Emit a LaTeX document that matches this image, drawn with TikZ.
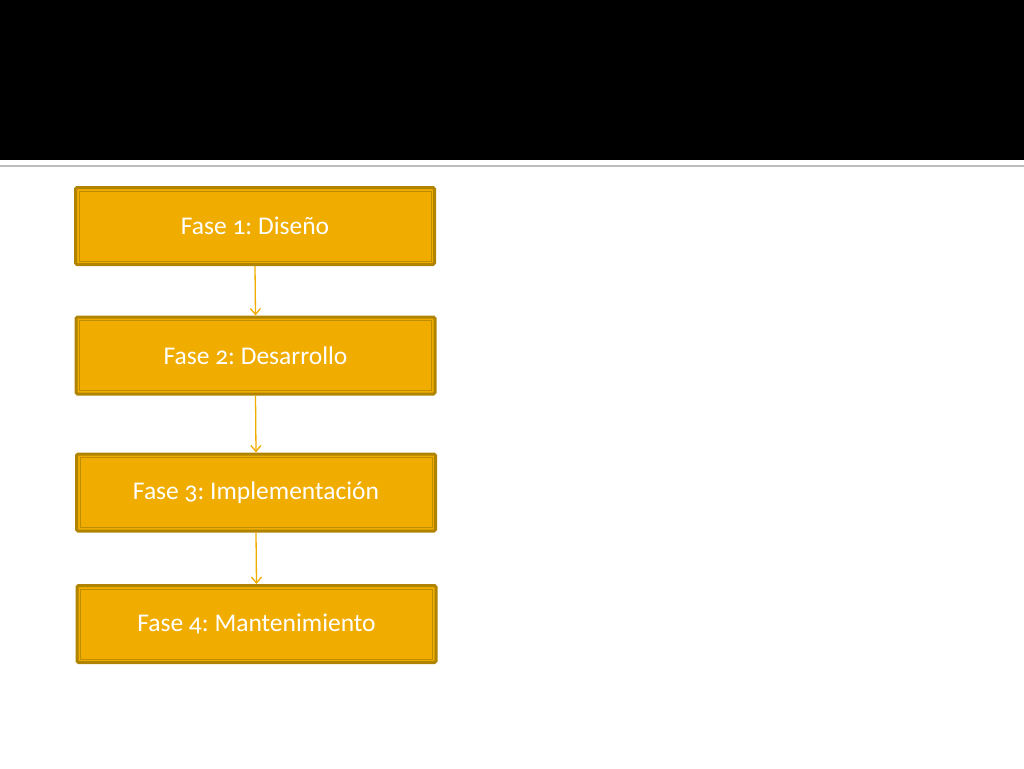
\documentclass[tikz,border=0pt]{standalone}
\usepackage{fontspec}
\setmainfont{Carlito}[Numbers=OldStyle]
\usetikzlibrary{arrows.meta}
\begin{document}
\frenchspacing
\begin{tikzpicture}[x=1pt,y=-1pt,
  fasebox/.style={rectangle,draw=fasedark,line width=3pt,fill=fasegold,rounded corners=1.5pt,
    minimum width=359pt,minimum height=77pt,text=white,font=\fontsize{25.5}{30}\selectfont},
  faseline/.style={draw=fasedark!80!fasegold,line width=0.8pt},
  flecha/.style={draw=fasegold,line width=1.3pt,-{Straight Barb[length=6pt,width=10pt]}}]
\definecolor{fasegold}{HTML}{F0AD00}
\definecolor{fasedark}{HTML}{B08400}
\definecolor{bandgrey}{HTML}{BDBDBD}
\useasboundingbox (0,0) rectangle (1024,768);
\fill[black] (0,0) rectangle (1024,160);
\draw[bandgrey,line width=2pt] (0,166) -- (1024,166);
  \foreach \n/\ypos/\txt in {1/226/{Fase 1: Diseño},2/355.5/{Fase 2: Desarrollo},
      3/492.5/{Fase 3: Implementación},4/624/{Fase 4: Mantenimiento}}
  {  \node [fasebox] (f\n) at (254.5+0.5*\n,\ypos) {\txt};
     \draw[faseline] ([shift={(5,5)}]f\n.north west) rectangle ([shift={(-5,-5)}]f\n.south east);}
  \foreach \a/\b in {1/2,2/3,3/4}
  {  \draw[flecha] (f\a.south) -- (f\b.north);}
\end{tikzpicture}
\end{document}
